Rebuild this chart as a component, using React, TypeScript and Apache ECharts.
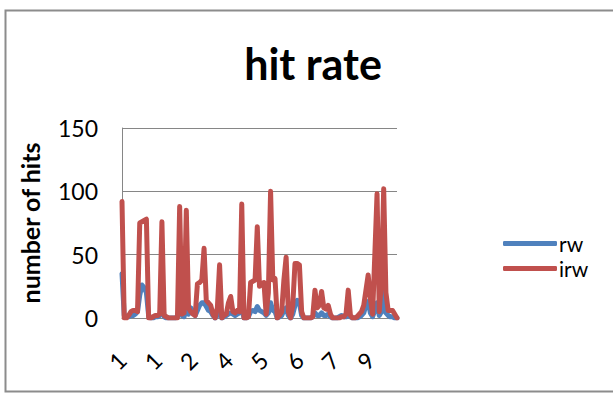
import React, { useEffect, useRef } from "react";
import * as echarts from "echarts";

const categories: string[] = [
  "1","1","1","1","1","1","1","1","1","1","1","1","1","1","1","1",
  "1","1","1","1","1","1","1","1","1","1","1","1",
  "2","2","2","2","2","2","2","2","2","2","2","2","2",
  "3","3","3","3","3","3",
  "4","4","4","4","4","4","4","4","4","4","4","4","4","4",
  "5","5","5","5","5","5","5","5","5","5","5","5","5","5","5",
  "6","6","6","6","6","6","6","6","6","6","6","6","6","6","6",
  "7","7","7","7","7","7","7","7","7","7","7","7","7",
  "8","8","8","8","8",
  "9","9","9","9","9","9","9","9","9","9","9","9","9","9","9","9",
];

const rw: number[] = [
  35, 2, 1, 1, 2, 2, 3, 5, 18, 26, 24, 20, 2, 0, 0, 1, 1, 2, 15, 1,
  0, 0, 0, 0, 0, 1, 10, 2, 1, 10, 3, 8, 5, 2, 6, 10, 12, 12, 9, 6,
  5, 2, 0, 2, 6, 0, 1, 2, 3, 4, 3, 2, 3, 4, 8, 0, 0, 1, 5, 6,
  5, 9, 6, 5, 4, 2, 4, 12, 6, 5, 0, 1, 2, 6, 8, 2, 0, 3, 10, 14,
  12, 2, 0, 0, 0, 0, 1, 4, 2, 2, 4, 2, 2, 3, 1, 0, 0, 0, 1, 2,
  1, 1, 3, 1, 0, 0, 0, 1, 2, 4, 10, 13, 4, 1, 6, 12, 2, 5, 26, 4,
  2, 1, 1, 0, 0,
];

const irw: number[] = [
  92, 0, 0, 2, 5, 6, 6, 5, 75, 76, 77, 78, 0, 0, 1, 2, 2, 3, 76, 2,
  1, 0, 0, 0, 0, 0, 88, 3, 4, 85, 8, 5, 3, 2, 27, 28, 30, 55, 14, 12,
  10, 3, 0, 8, 42, 0, 2, 3, 12, 17, 5, 4, 6, 5, 90, 0, 0, 1, 28, 29,
  30, 72, 25, 27, 28, 3, 20, 100, 30, 31, 0, 2, 5, 30, 48, 5, 0, 10, 43, 43,
  42, 5, 0, 0, 0, 0, 1, 22, 8, 10, 21, 8, 7, 10, 3, 0, 0, 0, 0, 1,
  1, 3, 22, 2, 0, 0, 1, 3, 5, 10, 22, 34, 15, 3, 50, 98, 5, 30, 102, 20,
  6, 6, 6, 3, 0,
];

const seriesNames = ["rw", "irw"];
const titleText = "hit rate";
const yAxisName = "number of hits";
const yMin = 0;
const yMax = 150;
const yStep = 50;

const FONT = "Lato, 'Open Sans', sans-serif";

export default function App() {
  const ref = useRef<HTMLDivElement>(null);
  useEffect(() => {
    const chart = echarts.init(ref.current!, null, { renderer: "svg" });
    chart.setOption({
      animation: false,
      backgroundColor: "#ffffff",
      textStyle: { fontFamily: FONT },
      graphic: [
        {
          type: "rect",
          shape: { x: 5.5, y: 10.5, width: 640, height: 381 },
          style: { fill: "none", stroke: "#8c8c8c", lineWidth: 2 },
          silent: true,
        },
        {
          type: "text",
          x: 313,
          y: 63,
          style: {
            text: titleText,
            fontFamily: FONT,
            fontWeight: "bold",
            fontSize: 43,
            fill: "#000",
            textAlign: "center",
            textVerticalAlign: "middle",
          },
        },
      ],
      legend: {
        orient: "vertical",
        left: 503,
        top: 233,
        padding: 0,
        itemGap: 4,
        itemWidth: 54,
        itemHeight: 5,
        icon: "roundRect",
        textStyle: {
          fontSize: 21,
          lineHeight: 20,
          fontFamily: FONT,
          color: "#000",
          padding: [0, 0, 0, -3],
        },
        data: seriesNames,
      },
      grid: { left: 122, top: 128, width: 275, height: 190, containLabel: false },
      xAxis: {
        type: "category",
        data: categories,
        boundaryGap: false,
        axisLine: { show: true, lineStyle: { color: "#868686", width: 1 } },
        axisTick: { show: false },
        axisLabel: {
          interval: 15,
          rotate: 45,
          margin: 38,
          fontSize: 23,
          fontFamily: FONT,
          color: "#000",
        },
        splitLine: { show: false },
      },
      yAxis: {
        type: "value",
        min: yMin,
        max: yMax,
        interval: yStep,
        name: yAxisName,
        nameLocation: "middle",
        nameRotate: 90,
        nameGap: 80,
        nameTextStyle: { fontSize: 25, fontWeight: "bold", fontFamily: FONT, color: "#000" },
        axisLine: { show: true, lineStyle: { color: "#868686", width: 1 } },
        axisTick: { show: false },
        axisLabel: { margin: 24, fontSize: 23, fontFamily: FONT, color: "#000" },
        splitLine: { show: true, lineStyle: { color: "#868686", width: 1 } },
      },
      series: [
        {
          name: seriesNames[0],
          type: "line",
          data: rw,
          showSymbol: false,
          symbol: "none",
          color: "#4F81BD",
          lineStyle: { width: 5, color: "#4F81BD", cap: "round", join: "round" },
          z: 2,
        },
        {
          name: seriesNames[1],
          type: "line",
          data: irw,
          showSymbol: false,
          symbol: "none",
          color: "#C0504D",
          lineStyle: { width: 5, color: "#C0504D", cap: "round", join: "round" },
          z: 3,
        },
      ],
    });
    return () => chart.dispose();
  }, []);
  return (
    <div
      ref={ref}
      style={{ position: "fixed", left: 0, top: 0, width: 613, height: 394, background: "#fff" }}
    />
  );
}
